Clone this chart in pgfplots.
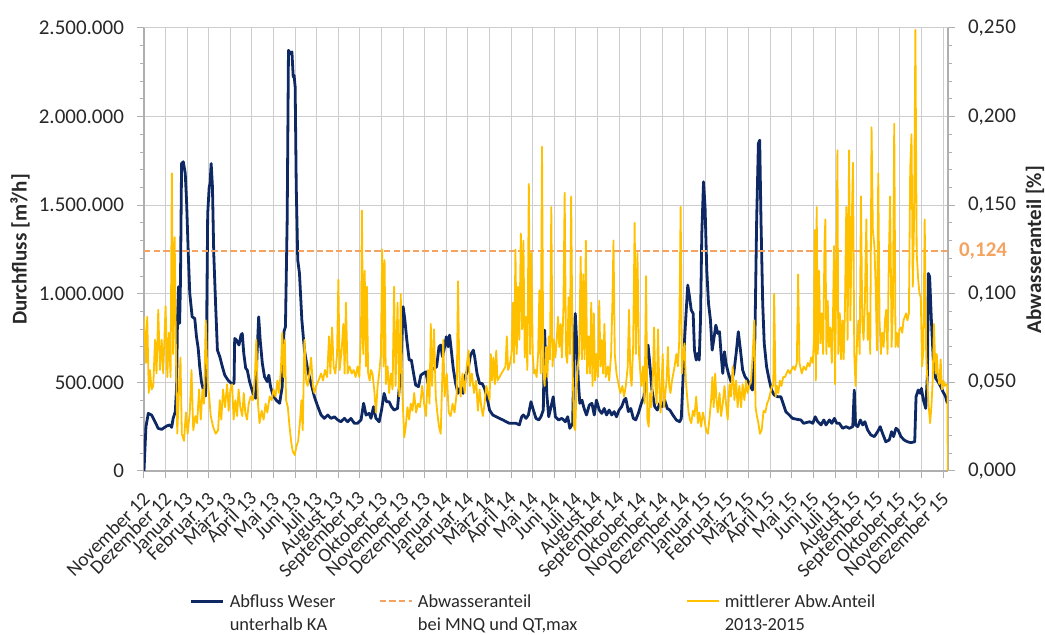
\documentclass[border=0pt]{standalone}
\usepackage{fontspec}
\setmainfont{Carlito}
\usepackage{pgfplots}
\pgfplotsset{compat=1.18}
\definecolor{navy}{RGB}{14,40,100}
\definecolor{gold}{RGB}{255,192,0}
\definecolor{orng}{RGB}{244,164,96}
\definecolor{gridc}{RGB}{205,205,205}
\definecolor{axisc}{RGB}{175,175,175}
\definecolor{txt}{RGB}{40,40,40}
\begin{document}
\begin{tikzpicture}
\pgfplotsset{
  common/.style={
    at={(0pt,0pt)}, anchor=south west,
    scale only axis, width=402pt, height=221.5pt,
    xmin=0, xmax=37.23,
    tick align=outside, major tick length=3.5pt, minor tick length=2pt,
    tick style={color=axisc, line width=0.5pt},
    axis line style={color=axisc, line width=0.6pt},
    tick label style={font=\fontsize{10.5}{12}\selectfont, color=txt},
  }
}
\begin{axis}[common,
  ymin=0, ymax=2500000,
  axis y line*=left, axis x line*=bottom,
  xtick={0,...,37},
  xticklabels={November 12,Dezember 12,Januar 13,Februar 13,März 13,April 13,Mai 13,Juni 13,Juli 13,August 13,September 13,Oktober 13,November 13,Dezember 13,Januar 14,Februar 14,März 14,April 14,Mai 14,Juni 14,Juli 14,August 14,September 14,Oktober 14,November 14,Dezember 14,Januar 15,Februar 15,März 15,April 15,Mai 15,Juni 15,Juli 15,August 15,September 15,Oktober 15,November 15,Dezember 15},
  xticklabel style={font=\fontsize{9.8}{12}\selectfont, xshift=3.5pt, yshift=-6.5pt, rotate=45, anchor=east},
  ytick={0,500000,1000000,1500000,2000000,2500000},
  minor y tick num=4,
  scaled y ticks=false,
  yticklabel style={/pgf/number format/.cd, fixed, precision=0, 1000 sep={.}, assume math mode=true, /tikz/.cd, xshift=-3pt},
  grid=major, major grid style={color=gridc, line width=0.5pt},
  every axis y label/.style={at={(axis description cs:-0.1542,0.5)}, anchor=center, rotate=90, font=\fontsize{10.5}{12}\selectfont\bfseries, color=txt},
  ylabel={Durchfluss [m³/h]},
]
\addplot[navy, line width=1.4pt, line join=round] coordinates {
(0,0) (0.09,250000) (0.20,325000) (0.35,316000) (0.51,278000) (0.66,240000) (0.82,235000) (1.05,254000) (1.20,260000) (1.28,246000) (1.35,297000) (1.45,335000) (1.51,476000) (1.55,852000) (1.60,1040000) (1.65,833000) (1.69,1077000) (1.74,1735000) (1.82,1745000) (1.91,1679000) (1.97,1528000) (2.05,1228000) (2.12,1002000) (2.23,870000) (2.35,861000) (2.43,758000) (2.51,692000) (2.58,588000) (2.66,504000) (2.77,447000) (2.85,423000) (2.89,664000) (2.95,1453000) (3.02,1603000) (3.06,1622000) (3.11,1735000) (3.17,1603000) (3.23,1228000) (3.32,927000) (3.40,682000) (3.51,645000) (3.63,588000) (3.74,541000) (3.89,513000) (4.05,494000) (4.17,494000) (4.20,748000) (4.28,739000) (4.40,711000) (4.49,767000) (4.55,776000) (4.62,664000) (4.71,579000) (4.78,570000) (4.89,504000) (5.05,438000) (5.17,410000) (5.23,645000) (5.31,870000) (5.38,739000) (5.48,607000) (5.58,532000) (5.71,504000) (5.78,541000) (5.86,476000) (5.97,429000) (6.12,400000) (6.28,382000) (6.40,476000) (6.48,786000) (6.55,814000) (6.63,1416000) (6.69,2374000) (6.77,2355000) (6.85,2365000) (6.91,2224000) (6.95,2233000) (7.00,2167000) (7.05,1603000) (7.12,1190000) (7.20,1115000) (7.31,852000) (7.43,682000) (7.58,570000)
(7.89,419000) (8.05,363000) (8.20,316000) (8.35,297000) (8.51,316000) (8.66,297000) (8.82,306000) (8.97,288000) (9.12,278000) (9.28,297000) (9.43,278000) (9.58,297000) (9.74,269000) (9.89,269000) (10.05,288000) (10.17,382000) (10.28,316000) (10.43,325000) (10.51,297000) (10.63,363000) (10.74,297000) (10.89,278000) (11.00,344000) (11.12,438000) (11.23,391000) (11.35,391000) (11.46,363000) (11.58,344000) (11.74,353000) (11.89,570000) (12.00,927000) (12.08,852000) (12.17,739000) (12.28,626000) (12.38,626000) (12.51,532000) (12.58,485000) (12.71,476000) (12.82,541000) (12.94,551000) (13.05,560000) (13.15,494000) (13.28,570000) (13.43,579000) (13.55,588000) (13.66,701000) (13.74,711000) (13.82,645000) (13.89,682000) (14.00,758000) (14.08,701000) (14.15,767000) (14.23,682000) (14.32,579000) (14.43,494000) (14.54,438000) (14.66,476000) (14.78,438000) (14.89,541000) (15.00,570000) (15.12,654000) (15.25,682000)
(15.31,645000) (15.42,551000) (15.54,494000) (15.66,494000) (15.77,466000) (15.88,419000) (16.00,344000) (16.15,316000) (16.31,306000) (16.46,297000) (16.62,288000) (16.77,278000) (16.92,269000) (17.08,269000) (17.23,269000) (17.38,260000) (17.49,306000) (17.57,316000) (17.69,297000) (17.80,316000) (17.92,391000) (18.03,344000) (18.15,297000) (18.28,288000) (18.38,306000) (18.49,344000) (18.55,795000) (18.65,438000) (18.74,306000) (18.85,363000) (18.95,419000) (19.05,306000) (19.20,288000) (19.35,297000) (19.51,278000) (19.62,306000) (19.72,241000) (19.85,269000) (19.91,664000) (19.97,889000) (20.03,739000) (20.11,513000) (20.18,382000) (20.28,400000) (20.38,353000) (20.49,316000) (20.62,372000) (20.74,382000) (20.85,316000) (20.95,400000) (21.08,344000) (21.20,325000) (21.31,353000) (21.42,316000) (21.54,344000) (21.66,316000) (21.77,335000) (21.88,306000) (22.00,344000) (22.12,363000) (22.23,400000) (22.31,410000) (22.43,335000) (22.54,353000) (22.66,297000) (22.77,288000) (22.89,325000)
(23.03,382000) (23.15,419000) (23.26,551000) (23.34,711000) (23.42,607000) (23.52,457000) (23.65,363000) (23.77,344000) (23.88,382000) (23.98,363000) (24.11,400000) (24.23,353000) (24.35,344000) (24.49,316000) (24.65,288000) (24.80,278000) (24.88,297000) (24.95,494000) (25.03,739000) (25.11,908000) (25.18,1049000) (25.26,983000) (25.34,908000) (25.43,889000) (25.49,682000) (25.57,626000) (25.65,664000) (25.71,626000) (25.77,852000) (25.83,1340000) (25.91,1632000) (25.98,1491000) (26.06,1133000) (26.14,946000) (26.23,852000) (26.31,682000) (26.38,739000) (26.48,823000) (26.57,776000) (26.65,786000) (26.72,664000) (26.80,551000) (26.88,673000) (26.95,607000) (27.06,551000) (27.18,504000) (27.31,551000) (27.42,664000) (27.52,786000) (27.62,682000) (27.72,570000) (27.83,532000) (27.95,513000) (28.08,476000) (28.18,457000) (28.29,758000) (28.37,1416000) (28.45,1848000) (28.51,1867000) (28.57,1416000) (28.65,946000) (28.72,720000) (28.83,588000) (28.95,513000) (29.06,457000) (29.18,429000) (29.34,419000) (29.49,419000) (29.62,372000) (29.72,335000) (29.88,316000) (30.03,297000) (30.26,291000) (30.42,288000) (30.54,269000)
(30.82,278000) (30.97,269000) (31.08,306000) (31.20,278000) (31.35,260000) (31.48,288000) (31.58,260000) (31.74,288000) (31.85,269000) (31.97,297000) (32.08,269000) (32.20,269000) (32.35,241000) (32.51,250000) (32.66,241000) (32.82,250000) (32.89,457000) (32.95,260000) (33.05,250000) (33.17,288000) (33.28,260000) (33.38,278000) (33.51,231000) (33.66,203000) (33.82,194000) (33.97,222000) (34.09,250000) (34.20,212000) (34.35,165000) (34.51,175000) (34.62,222000) (34.71,194000) (34.82,241000) (34.92,231000) (35.05,194000) (35.20,175000) (35.35,165000) (35.51,160000) (35.69,165000) (35.75,419000) (35.85,457000) (35.94,438000) (36.00,466000) (36.09,400000) (36.20,353000) (36.28,551000) (36.32,1115000) (36.38,1096000) (36.46,852000) (36.55,626000) (36.66,523000) (36.77,504000) (36.89,476000) (37.00,447000) (37.12,419000) (37.20,382000)
};
\end{axis}
\begin{axis}[common,
  ymin=0, ymax=0.25,
  axis y line*=right, axis x line=none,
  ytick={0,0.05,0.1,0.15,0.2,0.25},
  minor y tick num=4,
  yticklabel style={/pgf/number format/.cd, fixed, fixed zerofill, precision=3, use comma, assume math mode=true, /tikz/.cd, xshift=3pt},
  extra y ticks={0.124},
  extra y tick labels={\textbf{0,124}},
  extra y tick style={major tick length=0pt, grid=none, yticklabel style={color=orng, xshift=-1pt}},
  every axis y label/.style={at={(axis description cs:1.1082,0.5)}, anchor=center, rotate=90, font=\fontsize{10.5}{12}\selectfont\bfseries, color=txt},
  ylabel={Abwasseranteil [\%]},
  legend columns=3,
  legend style={draw=none, fill=none, at={(axis description cs:0.0572,-0.298)}, anchor=west,
    font=\fontsize{9.2}{11.4}\selectfont, text=txt, inner sep=0pt, outer sep=0pt,
    nodes={inner sep=0pt}, /tikz/column sep=0pt, cells={anchor=base west}},
  legend image code/.code={\draw[#1] (0pt,3.3pt) -- (16pt,3.3pt);},
]
\addlegendimage{navy, line width=1.4pt}
\addlegendentry{\hspace{2.5pt}\parbox[t]{74.5pt}{Abfluss Weser\\unterhalb KA}}
\addplot[orng, line width=1.1pt, dash pattern=on 3.2pt off 1.6pt] coordinates {(0,0.124) (37.2,0.124)};
\addlegendentry{\hspace{2.5pt}\parbox[t]{134pt}{Abwasseranteil\\bei MNQ und QT,max}}
\addplot[gold, line width=0.9pt, line join=round] coordinates {
(0.00,0.087) (0.09,0.061) (0.15,0.087) (0.22,0.044) (0.28,0.057) (0.35,0.046) (0.43,0.048) (0.51,0.074) (0.58,0.055) (0.66,0.091) (0.74,0.057) (0.82,0.074) (0.89,0.055) (1.00,0.093) (1.08,0.053) (1.15,0.078) (1.23,0.053) (1.29,0.168) (1.35,0.066) (1.42,0.132) (1.48,0.066) (1.54,0.021) (1.63,0.048) (1.69,0.064) (1.75,0.021) (1.85,0.017) (1.94,0.033) (2.02,0.021) (2.12,0.033) (2.20,0.057) (2.28,0.023) (2.38,0.031) (2.46,0.027) (2.55,0.046) (2.63,0.029) (2.71,0.046) (2.78,0.038) (2.86,0.085) (2.94,0.051) (3.02,0.042) (3.09,0.031) (3.20,0.025) (3.32,0.021) (3.43,0.023) (3.51,0.040) (3.58,0.029) (3.66,0.046) (3.75,0.036) (3.85,0.049) (3.92,0.034) (4.00,0.046) (4.08,0.049) (4.15,0.029) (4.23,0.040) (4.31,0.031) (4.38,0.046) (4.46,0.036) (4.55,0.031) (4.62,0.044) (4.69,0.033) (4.77,0.029) (4.85,0.038) (4.94,0.042) (5.05,0.040) (5.14,0.055) (5.20,0.074) (5.28,0.038) (5.35,0.027) (5.45,0.034) (5.54,0.029) (5.63,0.038) (5.71,0.033) (5.82,0.042) (5.91,0.040) (6.00,0.046) (6.09,0.042) (6.18,0.051) (6.25,0.044) (6.34,0.057) (6.40,0.078) (6.46,0.053) (6.52,0.074) (6.58,0.040) (6.66,0.036) (6.74,0.025) (6.82,0.016) (6.89,0.011) (6.98,0.009) (7.06,0.014) (7.14,0.017) (7.23,0.029) (7.29,0.040) (7.35,0.023) (7.43,0.074) (7.51,0.051) (7.58,0.048) (7.66,0.055)
(7.74,0.064) (7.82,0.048) (7.89,0.044) (7.97,0.048) (8.08,0.051) (8.20,0.055) (8.29,0.051) (8.38,0.057) (8.48,0.053) (8.57,0.076) (8.63,0.055) (8.71,0.081) (8.78,0.059) (8.86,0.055) (8.94,0.066) (9.00,0.108) (9.06,0.057) (9.15,0.068) (9.23,0.083) (9.29,0.055) (9.35,0.095) (9.43,0.055) (9.52,0.059) (9.62,0.055) (9.71,0.057) (9.80,0.053) (9.89,0.059) (9.97,0.053) (10.05,0.078) (10.09,0.147) (10.15,0.066) (10.22,0.113) (10.28,0.059) (10.32,0.104) (10.38,0.055) (10.45,0.051) (10.51,0.057) (10.58,0.055) (10.66,0.046) (10.74,0.033) (10.82,0.048) (10.89,0.055) (10.97,0.066) (11.03,0.125) (11.09,0.059) (11.14,0.119) (11.20,0.049) (11.28,0.059) (11.35,0.044) (11.43,0.055) (11.51,0.046) (11.58,0.104) (11.65,0.048) (11.74,0.095) (11.82,0.042) (11.89,0.100) (11.95,0.048) (12.05,0.019) (12.12,0.025) (12.20,0.036) (12.28,0.029) (12.35,0.038) (12.43,0.034) (12.51,0.044) (12.60,0.033) (12.69,0.038) (12.78,0.036) (12.88,0.048) (12.97,0.038) (13.06,0.031) (13.15,0.057) (13.22,0.038) (13.28,0.083) (13.34,0.048) (13.43,0.080) (13.51,0.042) (13.58,0.033) (13.66,0.025) (13.74,0.021) (13.80,0.048) (13.86,0.074) (13.92,0.042) (14.02,0.055) (14.11,0.033) (14.20,0.031) (14.29,0.038) (14.38,0.033) (14.48,0.044) (14.54,0.107) (14.60,0.057) (14.66,0.042) (14.75,0.055) (14.85,0.044) (14.94,0.059) (15.03,0.068) (15.09,0.048) (15.18,0.055) (15.28,0.044)
(15.38,0.051) (15.46,0.034) (15.54,0.046) (15.62,0.036) (15.69,0.031) (15.77,0.038) (15.85,0.048) (15.92,0.044) (16.00,0.040) (16.06,0.066) (16.12,0.051) (16.18,0.064) (16.25,0.049) (16.31,0.068) (16.37,0.051) (16.46,0.053) (16.55,0.055) (16.65,0.057) (16.74,0.059) (16.80,0.076) (16.86,0.057) (16.92,0.059) (17.02,0.066) (17.08,0.095) (17.14,0.061) (17.20,0.125) (17.26,0.066) (17.32,0.104) (17.38,0.074) (17.45,0.134) (17.51,0.080) (17.57,0.130) (17.63,0.064) (17.69,0.087) (17.75,0.057) (17.82,0.162) (17.88,0.066) (17.94,0.123) (18.00,0.066) (18.06,0.055) (18.12,0.057) (18.18,0.053) (18.25,0.066) (18.31,0.102) (18.37,0.055) (18.43,0.183) (18.49,0.057) (18.55,0.048) (18.62,0.070) (18.68,0.053) (18.74,0.076) (18.80,0.063) (18.86,0.149) (18.92,0.059) (18.98,0.074) (19.05,0.064) (19.11,0.074) (19.17,0.087) (19.23,0.070) (19.29,0.083) (19.35,0.064) (19.42,0.091) (19.48,0.157) (19.54,0.066) (19.60,0.061) (19.66,0.098) (19.72,0.066) (19.78,0.155) (19.85,0.057) (19.91,0.025) (19.97,0.023) (20.03,0.048) (20.09,0.059) (20.15,0.066) (20.22,0.121) (20.28,0.063) (20.34,0.111) (20.40,0.063) (20.46,0.130) (20.52,0.055) (20.58,0.076) (20.65,0.055) (20.71,0.095) (20.77,0.048) (20.83,0.089) (20.89,0.051) (20.95,0.066) (21.02,0.053) (21.08,0.096) (21.14,0.059) (21.20,0.074) (21.26,0.055) (21.32,0.083) (21.38,0.053) (21.48,0.059) (21.54,0.051) (21.63,0.066) (21.69,0.095) (21.74,0.130) (21.80,0.066) (21.88,0.055) (21.97,0.049) (22.06,0.044) (22.15,0.048) (22.23,0.042) (22.31,0.048) (22.40,0.059) (22.46,0.091) (22.52,0.055) (22.58,0.048) (22.65,0.070) (22.72,0.140) (22.78,0.066) (22.85,0.123) (22.92,0.066)
(23.03,0.048) (23.11,0.059) (23.18,0.038) (23.25,0.110) (23.31,0.029) (23.37,0.025) (23.43,0.044) (23.49,0.036) (23.57,0.055) (23.62,0.081) (23.68,0.048) (23.74,0.038) (23.80,0.080) (23.86,0.048) (23.92,0.033) (24.02,0.066) (24.08,0.036) (24.14,0.044) (24.20,0.051) (24.26,0.070) (24.32,0.048) (24.38,0.044) (24.45,0.051) (24.51,0.055) (24.57,0.059) (24.65,0.066) (24.72,0.059) (24.78,0.072) (24.85,0.149) (24.91,0.055) (24.97,0.066) (25.03,0.072) (25.09,0.051) (25.15,0.042) (25.22,0.033) (25.28,0.029) (25.34,0.027) (25.42,0.034) (25.49,0.031) (25.57,0.042) (25.65,0.027) (25.72,0.033) (25.80,0.025) (25.88,0.033) (25.95,0.029) (26.03,0.023) (26.11,0.021) (26.18,0.029) (26.26,0.040) (26.32,0.053) (26.38,0.036) (26.45,0.055) (26.51,0.040) (26.57,0.033) (26.65,0.044) (26.72,0.031) (26.80,0.038) (26.88,0.048) (26.95,0.038) (27.03,0.029) (27.11,0.049) (27.18,0.042) (27.26,0.059) (27.34,0.040) (27.42,0.051) (27.49,0.036) (27.57,0.048) (27.65,0.036) (27.72,0.049) (27.80,0.040) (27.88,0.051) (27.95,0.044) (28.03,0.048) (28.11,0.051) (28.18,0.064) (28.26,0.085) (28.32,0.036) (28.38,0.031) (28.45,0.027) (28.52,0.021) (28.60,0.023) (28.69,0.034) (28.77,0.033) (28.85,0.038) (28.92,0.040) (29.00,0.044) (29.08,0.048) (29.14,0.048) (29.18,0.100) (29.25,0.042) (29.31,0.048) (29.37,0.044) (29.45,0.051) (29.52,0.048) (29.60,0.053) (29.68,0.053) (29.75,0.055) (29.83,0.057) (29.91,0.055) (29.98,0.057) (30.06,0.059) (30.14,0.057) (30.23,0.061) (30.29,0.111) (30.35,0.061)
(30.46,0.055) (30.55,0.059) (30.65,0.057) (30.74,0.061) (30.82,0.059) (30.89,0.064) (30.97,0.061) (31.02,0.074) (31.06,0.136) (31.11,0.051) (31.15,0.149) (31.20,0.066) (31.26,0.113) (31.32,0.072) (31.38,0.089) (31.45,0.066) (31.51,0.127) (31.55,0.142) (31.60,0.066) (31.66,0.096) (31.72,0.070) (31.78,0.081) (31.85,0.061) (31.91,0.091) (31.95,0.127) (32.00,0.049) (32.06,0.117) (32.11,0.181) (32.15,0.066) (32.22,0.089) (32.28,0.063) (32.34,0.085) (32.40,0.063) (32.46,0.093) (32.52,0.149) (32.58,0.074) (32.65,0.181) (32.71,0.085) (32.77,0.138) (32.83,0.174) (32.89,0.066) (32.95,0.048) (33.02,0.074) (33.08,0.085) (33.14,0.066) (33.20,0.155) (33.26,0.085) (33.32,0.074) (33.38,0.095) (33.45,0.142) (33.51,0.074) (33.57,0.089) (33.63,0.066) (33.69,0.194) (33.75,0.136) (33.82,0.127) (33.88,0.104) (33.94,0.068) (34.00,0.168) (34.06,0.085) (34.12,0.066) (34.18,0.078) (34.25,0.070) (34.31,0.085) (34.37,0.091) (34.43,0.066) (34.49,0.119) (34.55,0.155) (34.62,0.070) (34.68,0.093) (34.74,0.196) (34.80,0.070) (34.86,0.078) (34.92,0.070) (34.98,0.080) (35.05,0.081) (35.11,0.078) (35.17,0.085) (35.23,0.087) (35.29,0.089) (35.35,0.085) (35.42,0.089) (35.48,0.170) (35.54,0.190) (35.60,0.104) (35.66,0.142) (35.72,0.249) (35.78,0.123) (35.85,0.108) (35.91,0.100) (35.97,0.098) (36.03,0.059) (36.09,0.068) (36.15,0.142) (36.22,0.066) (36.28,0.048) (36.34,0.036) (36.40,0.027) (36.46,0.036) (36.52,0.051) (36.58,0.083) (36.65,0.055) (36.71,0.066) (36.77,0.053) (36.83,0.049) (36.89,0.063) (36.95,0.046) (37.02,0.051) (37.08,0.048) (37.14,0.049) (37.20,0.048) (37.22,0)
};
\addlegendentry{\hspace{2.5pt}\parbox[t]{100pt}{mittlerer Abw.Anteil\\2013-2015}}
\end{axis}
\pgfresetboundingbox
\path (-72pt,-82pt) rectangle (450.5pt,235.5pt);
\end{tikzpicture}
\end{document}
